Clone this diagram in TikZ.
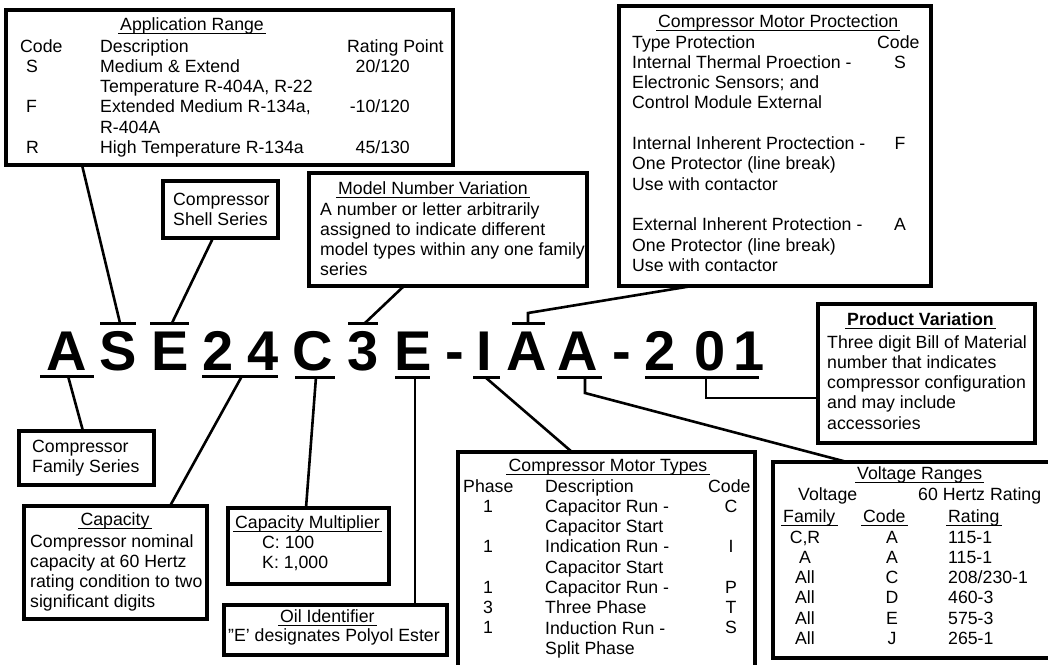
\documentclass[tikz,border=0pt]{standalone}
\usepackage{fontspec}
\setmainfont{Liberation Sans}
\usetikzlibrary{fit}

\newcommand\txtsize{\fontsize{17.7}{20.3}\selectfont}
\newcommand\codesize{\fontsize{56}{56}\selectfont\bfseries}
% columns of rows, hung from the baseline of their first row
\newcommand\colL[1]{\begin{tabular}[t]{@{}l@{}}#1\end{tabular}}
\newcommand\colC[1]{\begin{tabular}[t]{@{}c@{}}#1\end{tabular}}
\newcommand\colR[1]{\begin{tabular}[t]{@{}r@{}}#1\end{tabular}}

\tikzset{
  box/.style={draw, line width=3.2pt, inner sep=0pt, outer sep=0pt},
  txt/.style={anchor=base west, inner sep=0pt},
  code/.style={anchor=base, inner sep=0pt, font=\codesize},
  conn/.style={line width=2.6pt},
  bar/.style={line width=3pt},
  uline/.style={line width=1.8pt}
}

\begin{document}
\begin{tikzpicture}[x=1pt, y=-1pt, font=\txtsize]
  \useasboundingbox (0,0) rectangle (1048,664);
  \clip (0,0) rectangle (1048,664);

  % boxes
  \node[box, fit={(6,10) (453,165)}] (appBox) {};
  \node[box, fit={(163,181) (278,238)}] (shellBox) {};
  \node[box, fit={(309,173) (587,286)}] (mnBox) {};
  \node[box, fit={(619,6) (931,286)}] (pcBox) {};
  \node[box, fit={(818,304) (1035,443)}] (pvBox) {};
  \node[box, fit={(19,431) (154,485)}] (famBox) {};
  \node[box, fit={(24,506) (207,619)}] (capBox) {};
  \node[box, fit={(228,508) (389,584)}] (mulBox) {};
  \node[box, fit={(224,605) (447,655)}] (oilBox) {};
  \node[box, fit={(458,452) (755,680)}] (mtBox) {};
  \node[box, fit={(773,462) (1060,658)}] (vrBox) {};

  % application range
  \node[txt] (arTitle) at (120,30) {Application Range};
  \node[txt] (arCodeHd) at (20,52) {Code};
  \node[txt] (arCodes) at (26,72) {\colL{S\\[20.3pt]F\\[20.3pt]R}};
  \node[txt] (arDesc) at (100,52) {\colL{Description\\Medium \& Extend\\Temperature R-404A, R-22\\Extended Medium R-134a,\\R-404A\\High Temperature R-134a}};
  \node[txt] (arRateHd) at (347,52) {Rating Point};
  \node[txt, anchor=base east] (arRates) at (410,72) {\colR{20/120\\[20.3pt]-10/120\\[20.3pt]45/130}};

  % shell series and model number
  \node[txt] (shellText) at (173,205) {\colL{Compressor\\Shell Series}};
  \node[txt] (mnTitle) at (338,194) {Model Number Variation};
  \node[txt] (mnText) at (320,215) {\colL{A number or letter arbitrarily\\assigned to indicate different\\model types within any one family\\series}};

  % motor protection
  \node[txt] (pcTitle) at (658,27) {Compressor Motor Proctection};
  \node[txt] (pcDesc) at (632,48) {\colL{Type Protection\\Internal Thermal Proection -\\Electronic Sensors; and\\Control Module External\\[20.3pt]Internal Inherent Proctection -\\One Protector (line break)\\Use with contactor\\[20.3pt]External Inherent Protection -\\One Protector (line break)\\Use with contactor}};
  \node[txt] (pcCodeHd) at (877,48) {Code};
  \node[txt, anchor=base] (pcCodes) at (900,68) {\colC{S\\[60.9pt]F\\[60.9pt]A}};

  % product variation
  \node[txt, font=\txtsize\bfseries] (pvTitle) at (847,325) {Product Variation};
  \node[txt] (pvText) at (827,348) {\colL{Three digit Bill of Material\\number that indicates\\compressor configuration\\and may include\\accessories}};

  % family, capacity, multiplier, oil
  \node[txt] (famText) at (32,452) {\colL{Compressor\\Family Series}};
  \node[txt, anchor=base] (capTitle) at (115,525) {Capacity};
  \node[txt] (capText) at (30,547) {\colL{Compressor nominal\\capacity at 60 Hertz\\rating condition to two\\significant digits}};
  \node[txt] (mulTitle) at (235,528) {Capacity Multiplier};
  \node[txt] (mulText) at (262,548) {\colL{C: 100\\K: 1,000}};
  \node[txt] (oilTitle) at (280,622) {Oil Identifier};
  \node[txt] (oilText) at (228,641) {"E' designates Polyol Ester};

  % motor types
  \node[txt, anchor=base] (mtTitle) at (608,471) {Compressor Motor Types};
  \node[txt] (mtPhaseHd) at (463,492) {Phase};
  \node[txt] (mtPhases) at (483,512) {\colL{1\\[20.3pt]1\\[20.3pt]1\\3\\1}};
  \node[txt] (mtDesc) at (545,492) {\colL{Description\\Capacitor Run -\\Capacitor Start\\Indication Run -\\Capacitor Start\\Capacitor Run -\\Three Phase\\Induction Run -\\Split Phase}};
  \node[txt] (mtCodeHd) at (708,492) {Code};
  \node[txt, anchor=base] (mtCodes) at (731,512) {\colC{C\\[20.3pt]I\\[20.3pt]P\\T\\S}};

  % voltage ranges
  \node[txt] (vrTitle) at (857,479) {Voltage Ranges};
  \node[txt] (vrVolt) at (798,500) {Voltage};
  \node[txt] (vrHertz) at (918,500) {60 Hertz Rating};
  \node[txt] (vrFamHd) at (783,522) {Family};
  \node[txt] (vrCodeHd) at (863,522) {Code};
  \node[txt] (vrRateHd) at (948,522) {Rating};
  \node[txt, anchor=base] (vrFams) at (805,543) {\colC{C,R\\A\\All\\All\\All\\All}};
  \node[txt, anchor=base] (vrCodes) at (892,543) {\colC{A\\A\\C\\D\\E\\J}};
  \node[txt] (vrRates) at (948,543) {\colL{115-1\\115-1\\208/230-1\\460-3\\575-3\\265-1}};

  % underlined headings
  \foreach \t in {arTitle, mnTitle, pcTitle, pvTitle, capTitle, mulTitle, oilTitle, mtTitle, vrTitle, vrFamHd, vrCodeHd, vrRateHd}
    \draw[uline] ([xshift=-2pt,yshift=-3.5pt]\t.base west) -- ([xshift=2pt,yshift=-3.5pt]\t.base east);

  % the model code
  \node[code] (cA) at (67,370) {A};
  \node[code] (cS) at (118,370) {S};
  \node[code] (cE) at (170,370) {E};
  \node[code] (c2) at (218,370) {2};
  \node[code] (c4) at (263,370) {4};
  \node[code] (cC) at (313,370) {C};
  \node[code] (c3) at (363,370) {3};
  \node[code] (cE2) at (413,370) {E};
  \node[code] (cDash) at (455,370) {-};
  \node[code] (cI) at (484,370) {I};
  \node[code] (cA2) at (527,370) {A};
  \node[code] (cA3) at (578,370) {A};
  \node[code] (cDash2) at (622,370) {-};
  \node[code] (c2b) at (660,370) {2};
  \node[code] (c0) at (710,370) {0};
  \node[code] (c1) at (749,370) {1};

  % bars over and under the code
  \foreach \xa/\xb/\yy in {40/94/376, 100/136/323, 150/189/323, 202/278/376, 295/335/377, 348/378/323, 395/430/377, 473/500/377, 512/545/323, 557/602/377, 645/759/377}
    \draw[bar] (\xa,\yy) -- (\xb,\yy);

  \coordinate (barA) at (68,376);
  \coordinate (barS) at (120,323);
  \coordinate (barE) at (172,323);
  \coordinate (bar24) at (242,376);
  \coordinate (barC) at (316,377);
  \coordinate (bar3) at (365,323);
  \coordinate (barE2) at (415,377);
  \coordinate (barI) at (485,377);
  \coordinate (barA2) at (528,323);
  \coordinate (barA3) at (585,377);
  \coordinate (bar201) at (706,377);
  \coordinate (pcBend) at ([yshift=10pt]barA2);
  \coordinate (vrBend) at ([yshift=-16pt]barA3);
  \coordinate (pvBend) at ([yshift=-21pt]bar201);

  % connectors
  \draw[conn] ([xshift=76pt]appBox.south west) -- (barS);
  \draw[conn] ([xshift=50pt]shellBox.south west) -- (barE);
  \draw[conn] ([xshift=95pt]mnBox.south west) -- (bar3);
  \draw[conn] ([xshift=73pt]pcBox.south west) -- (pcBend) -- (barA2);
  \draw[conn] (barA) -- ([xshift=64pt]famBox.north west);
  \draw[conn] (bar24) -- ([xshift=146pt]capBox.north west);
  \draw[conn] (barC) -- ([xshift=78pt]mulBox.north west);
  \draw[conn] (barE2) -- ([xshift=191pt]oilBox.north west);
  \draw[conn] (barI) -- ([xshift=114pt]mtBox.north west);
  \draw[conn] (barA3) -- (vrBend) -- ([xshift=74pt]vrBox.north west);
  \draw[conn] (bar201) -- (pvBend) -- (pvBend -| pvBox.west);
\end{tikzpicture}
\end{document}
